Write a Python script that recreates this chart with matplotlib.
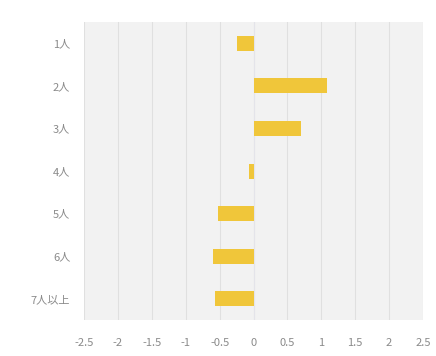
import matplotlib
matplotlib.use("Agg")
import matplotlib.pyplot as plt

plt.rcParams['font.family'] = ['Noto Sans CJK JP', 'DejaVu Sans']

categories = ["1人", "2人", "3人", "4人", "5人", "6人", "7人以上"]
values = [-0.24, 1.09, 0.70, -0.06, -0.52, -0.60, -0.57]
xticks = [-2.5, -2, -1.5, -1, -0.5, 0, 0.5, 1, 1.5, 2, 2.5]
xticklabels = ["-2.5", "-2", "-1.5", "-1", "-0.5", "0", "0.5", "1", "1.5", "2", "2.5"]

fig = plt.figure(figsize=(4.36, 3.56), dpi=100)
ax = fig.add_axes([0.193, 0.101, 0.777, 0.837])
ax.set_facecolor('#f2f2f2')

y = list(range(len(categories)))
ax.barh(y, values, height=0.35, color='#f0c63a', zorder=3)
ax.axvline(0, color='#e4e4ea', lw=0.8, zorder=2)

ax.set_xlim(-2.5, 2.5)
ax.set_ylim(len(categories) - 0.5, -0.5)
ax.set_xticks(xticks)
ax.set_xticklabels(xticklabels)
ax.set_yticks(y)
ax.set_yticklabels(categories)
ax.grid(axis='x', color='#e0e0e0', lw=0.8, zorder=1)
for s in ax.spines.values():
    s.set_visible(False)
ax.tick_params(length=0, colors='#8a8a8a', labelsize=8)
ax.tick_params(axis='y', pad=10)
ax.tick_params(axis='x', pad=13)

fig.savefig('out.png', dpi=100, facecolor='white')
